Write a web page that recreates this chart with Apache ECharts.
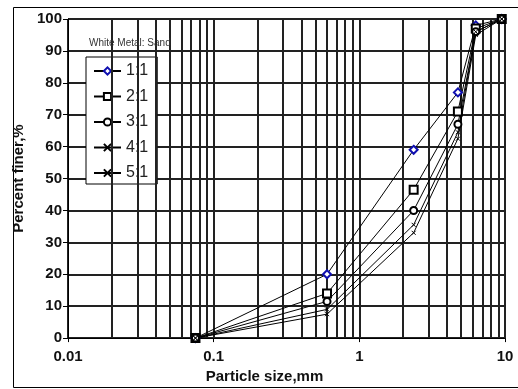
<!DOCTYPE html>
<html>
<head>
<meta charset="utf-8">
<script src="https://cdn.jsdelivr.net/npm/echarts@6/dist/echarts.min.js"></script>
<style>
html,body{margin:0;padding:0;background:#fff;}
#chart{width:518px;height:389px;}
</style>
</head>
<body>
<div id="chart"></div>
<script>
// Sieve sizes (mm)
var sizes = [0.075, 0.6, 2.36, 4.75, 6.3, 9.5];
// Percent finer for each ratio
var r11 = [0, 20, 59, 77, 98, 100];
var r21 = [0, 14, 46.5, 71, 97, 100];
var r31 = [0, 11.5, 40, 67, 96, 100];
var r41 = [0, 9, 35.5, 64.5, 96, 100];
var r51 = [0, 7.5, 33, 62.5, 95, 100];
var seriesNames = ['1:1', '2:1', '3:1', '4:1', '5:1'];
var yTicks = [0, 10, 20, 30, 40, 50, 60, 70, 80, 90, 100];
var xMajor = [0.01, 0.1, 1, 10];
var xMinorMult = [2, 3, 4, 5, 6, 7, 8, 9];

function pairs(xs, ys) { return xs.map(function (x, i) { return [x, ys[i]]; }); }

var minorLines = [];
xMajor.slice(0, 3).forEach(function (d) {
  xMinorMult.forEach(function (m) { minorLines.push({ xAxis: +(d * m).toPrecision(3) }); });
});

var gridColor = '#222';
var gridWidth = 2;
var crossPath = 'path://M0,0L10,10M10,0L0,10';

var chart = echarts.init(document.getElementById('chart'), null, { renderer: 'canvas' });
var option = {
  animation: false,
  backgroundColor: '#fff',
  title: {
    text: 'White Metal: Sand',
    left: 84, top: 33,
    textStyle: { fontFamily: 'Liberation Sans, Arial', fontSize: 10, fontWeight: 'normal', color: '#333' }
  },
  grid: { left: 68, right: 13, top: 19, bottom: 46 },
  legend: {
    orient: 'vertical',
    left: 86, top: 57,
    padding: [6, 9, 3, 7],
    itemWidth: 27, itemHeight: 9, itemGap: 9.5,
    backgroundColor: '#fff',
    borderColor: '#000', borderWidth: 1,
    textStyle: { fontFamily: 'Liberation Sans, Arial', fontSize: 16, color: '#222' },
    data: seriesNames
  },
  xAxis: {
    type: 'log', logBase: 10, min: 0.01, max: 10,
    name: 'Particle size,mm', nameLocation: 'middle', nameGap: 28,
    nameTextStyle: { fontFamily: 'Liberation Sans, Arial', fontWeight: 'bold', fontSize: 15, color: '#111', padding: [0, 44, 0, 0] },
    axisLine: { show: true, lineStyle: { color: '#000', width: 1 } },
    axisTick: { show: true, length: 4, lineStyle: { color: '#000' } },
    axisLabel: {
      fontFamily: 'Liberation Sans, Arial', fontWeight: 'bold', fontSize: 15, color: '#111', margin: 11,
      formatter: function (v) { return String(+v.toPrecision(3)); }
    },
    splitLine: { show: true, lineStyle: { color: gridColor, width: gridWidth } }
  },
  yAxis: {
    type: 'value', min: 0, max: 100, interval: 10,
    name: 'Percent finer,%', nameLocation: 'middle', nameGap: 34,
    nameTextStyle: { fontFamily: 'Liberation Sans, Arial', fontWeight: 'bold', fontSize: 15, color: '#111' },
    axisLine: { show: true, lineStyle: { color: '#000', width: 1 } },
    axisTick: { show: true, length: 5, lineStyle: { color: '#000' } },
    axisLabel: { fontFamily: 'Liberation Sans, Arial', fontWeight: 'bold', fontSize: 15, color: '#111', margin: 6 },
    splitLine: { show: true, lineStyle: { color: gridColor, width: gridWidth } }
  },
  graphic: [{
    type: 'rect', silent: true, z: -10,
    shape: { x: 13.5, y: 7.5, width: 520, height: 380 },
    style: { fill: 'none', stroke: '#000', lineWidth: 1 }
  }],
  series: [
    {
      name: '_grid', type: 'line', data: [[0.01, 0]], symbol: 'none', silent: true, z: 1,
      lineStyle: { width: 0 },
      markLine: {
        silent: true, symbol: ['none', 'none'], label: { show: false },
        lineStyle: { type: 'solid', color: gridColor, width: gridWidth },
        data: minorLines
      }
    },
    {
      name: seriesNames[0], type: 'line', data: pairs(sizes, r11), z: 5,
      symbol: 'emptyDiamond', symbolSize: 8, showAllSymbol: true,
      lineStyle: { color: '#000', width: 1 },
      itemStyle: { color: '#1010b0', borderWidth: 1.2 }
    },
    {
      name: seriesNames[1], type: 'line', data: pairs(sizes, r21), z: 5,
      symbol: 'emptyRect', symbolSize: 8,
      lineStyle: { color: '#000', width: 1 },
      itemStyle: { color: '#000', borderWidth: 1 }
    },
    {
      name: seriesNames[2], type: 'line', data: pairs(sizes, r31), z: 5,
      symbol: 'emptyCircle', symbolSize: 7,
      lineStyle: { color: '#000', width: 1 },
      itemStyle: { color: '#000', borderWidth: 1 }
    },
    {
      name: seriesNames[3], type: 'line', data: pairs(sizes, r41), z: 5,
      symbol: crossPath, symbolSize: 4,
      lineStyle: { color: '#000', width: 1 },
      itemStyle: { color: 'none', borderColor: '#000', borderWidth: 1 }
    },
    {
      name: seriesNames[4], type: 'line', data: pairs(sizes, r51), z: 5,
      symbol: crossPath, symbolSize: 4,
      lineStyle: { color: '#000', width: 1 },
      itemStyle: { color: 'none', borderColor: '#000', borderWidth: 1 }
    }
  ]
};
chart.setOption(option);
</script>
</body>
</html>
